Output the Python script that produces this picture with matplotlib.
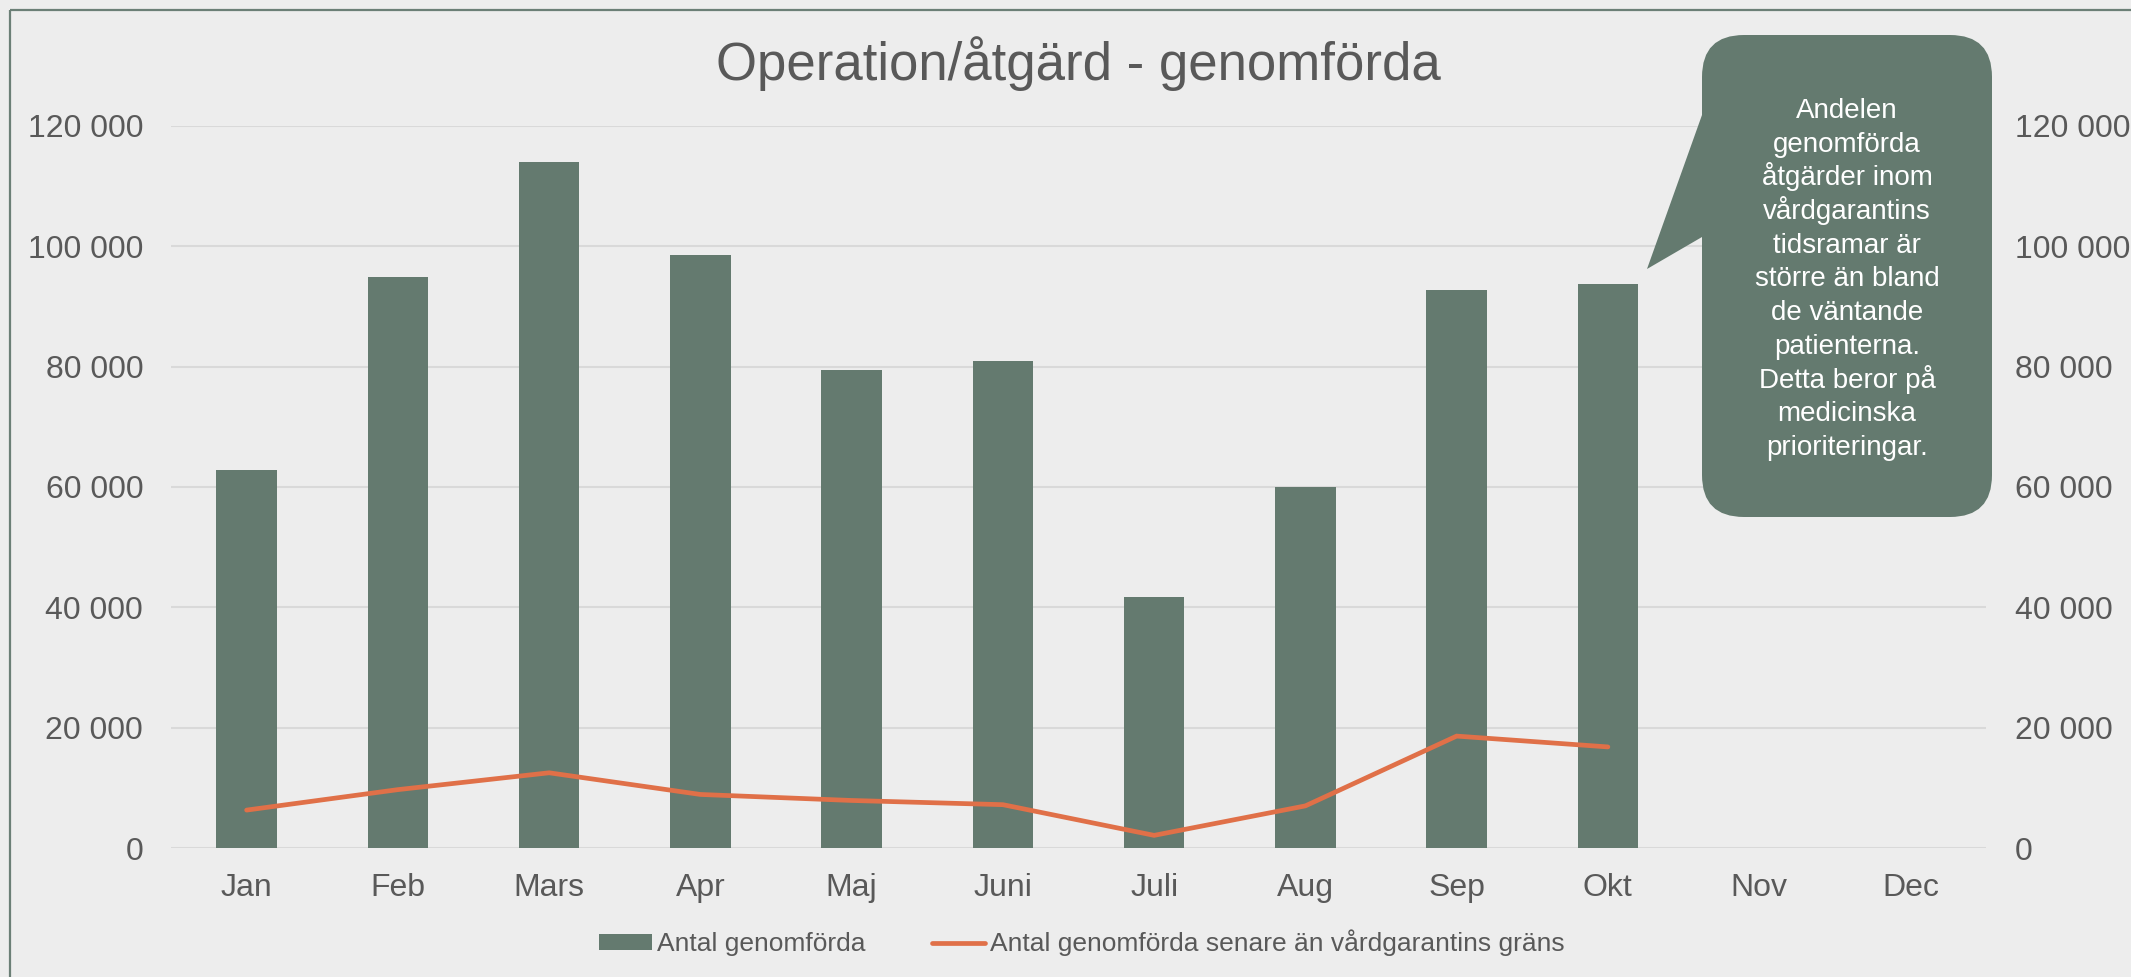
import numpy as np
import matplotlib
matplotlib.use("Agg")
import matplotlib.pyplot as plt
from matplotlib.patches import FancyBboxPatch, Polygon, Rectangle, Patch
from matplotlib.lines import Line2D
from matplotlib.ticker import FuncFormatter

plt.rcParams['font.family'] = ['Liberation Sans', 'DejaVu Sans']

# data
months = ['Jan', 'Feb', 'Mars', 'Apr', 'Maj', 'Juni', 'Juli', 'Aug', 'Sep', 'Okt', 'Nov', 'Dec']
genomforda = [62800, 94900, 114000, 98600, 79400, 80900, 41700, 60000, 92800, 93700]
senare = [6300, 9700, 12500, 8900, 7900, 7200, 2100, 7000, 18600, 16800]
yticks = [0, 20000, 40000, 60000, 80000, 100000, 120000]

title = 'Operation/åtgärd - genomförda'
label_bar = 'Antal genomförda'
label_line = 'Antal genomförda senare än vårdgarantins gräns'
callout = ['Andelen', 'genomförda', 'åtgärder inom', 'vårdgarantins', 'tidsramar är',
           'större än bland', 'de väntande', 'patienterna.', 'Detta beror på',
           'medicinska', 'prioriteringar.']

bar_col = '#647a6f'
line_col = '#e07048'
bg = '#ededed'
txt_col = '#595959'

W, H = 2131, 977
fig = plt.figure(figsize=(W / 100, H / 100), dpi=100, facecolor=bg)

ax = fig.add_axes([171 / W, 1 - 848 / H, (1986 - 171) / W, (848 - 126) / H])
ax.set_facecolor(bg)
ax2 = ax.twinx()

x = np.arange(len(months))
ax.bar(x[:len(genomforda)], genomforda, width=0.4, color=bar_col, zorder=2)
ax2.plot(x[:len(senare)], senare, color=line_col, lw=3.4, solid_capstyle='round',
         solid_joinstyle='miter', zorder=3)

fmt = FuncFormatter(lambda v, p: f"{int(v):,}".replace(",", " "))
for a in (ax, ax2):
    a.set_ylim(0, 120000)
    a.set_yticks(yticks)
    a.yaxis.set_major_formatter(fmt)
    for s in a.spines.values():
        s.set_visible(False)
    a.tick_params(length=0, labelsize=23, labelcolor=txt_col)
ax.tick_params(axis='y', pad=20)
ax2.tick_params(axis='y', pad=21)
ax.tick_params(axis='x', pad=18)

ax.set_xlim(-0.5, len(months) - 0.5)
ax.set_xticks(x)
ax.set_xticklabels(months)
ax.set_axisbelow(True)
ax.yaxis.grid(True, color='#d9d9d9', lw=1.5)

fig.text(1078 / W, 1 - 64 / H, title, ha='center', va='center', fontsize=38, color=txt_col)

handles = [Patch(facecolor=bar_col), Line2D([0], [0], color=line_col, lw=3.4, solid_capstyle='round')]
fig.legend(handles, [label_bar, label_line], loc='center', bbox_to_anchor=(1082 / W, 1 - 943 / H),
           ncol=2, frameon=False, fontsize=19, labelcolor=txt_col, handlelength=2.0,
           handleheight=0.55, handletextpad=0.2, columnspacing=2.5)

# overlay in pixel coordinates for frame and callout
ov = fig.add_axes([0, 0, 1, 1], zorder=10)
ov.set_xlim(0, W)
ov.set_ylim(H, 0)
ov.axis('off')
ov.patch.set_alpha(0)
ov.add_patch(Rectangle((10, 10), W + 50, H + 50, fill=False, ec='#6b7f76', lw=1.6))
ov.add_patch(Polygon([(1647, 269), (1702, 115), (1730, 115), (1730, 237), (1702, 237)],
                     closed=True, fc=bar_col, ec='none'))
ov.add_patch(FancyBboxPatch((1702, 35), 290, 482, boxstyle='round,pad=0,rounding_size=42',
                            fc=bar_col, ec='none'))
for i, line in enumerate(callout):
    ov.text(1847, 118 + 33.7 * i, line, ha='center', va='baseline',
            fontsize=20, color='white')

fig.savefig('out.png', dpi=100, facecolor=bg)
